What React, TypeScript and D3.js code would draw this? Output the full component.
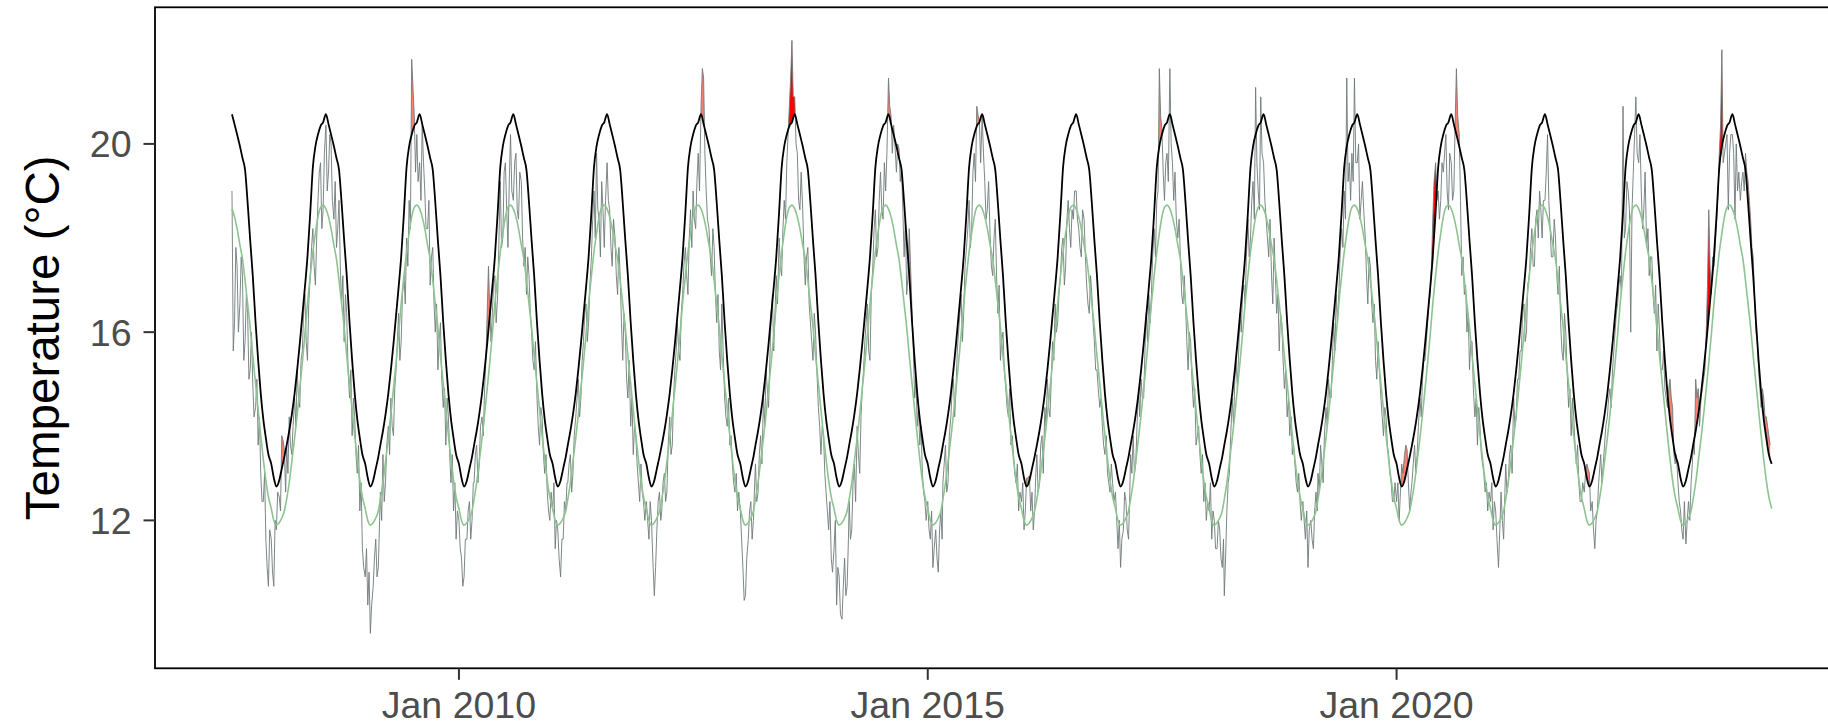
import React from "react";
import * as d3 from "d3";

// ---------- data ----------
const dekadDays = [1, 11, 21];
const pentadDays = [1, 6, 11, 16, 21, 26];
// climatology (seasonal mean) at each dekad of the year
const climDekad = [12.25, 12.0, 11.9, 11.95, 12.05, 12.2, 12.45, 12.8, 13.25, 13.75, 14.25, 14.8, 15.35, 15.95, 16.6, 17.2, 17.7, 18.1, 18.45, 18.65, 18.7, 18.62, 18.45, 18.2, 17.85, 17.55, 17.1, 16.6, 16.1, 15.5, 14.9, 14.35, 13.8, 13.3, 12.85, 12.5];
// 90th percentile threshold at each dekad of the year
const threshDekad = [13.2, 12.9, 12.72, 12.85, 13.1, 13.35, 13.6, 13.9, 14.25, 14.7, 15.2, 15.75, 16.35, 16.95, 17.6, 18.55, 19.5, 19.95, 20.2, 20.38, 20.46, 20.63, 20.42, 20.2, 19.95, 19.7, 19.45, 18.75, 17.95, 17.2, 16.2, 15.4, 14.7, 14.15, 13.75, 13.4];

// observed temperature, 6 readings per month (days 1,6,11,16,21,26); 2007 starts in August
const t2007 = [19.0, 15.6, 16.2, 17.8, 17.4, 16.0, 16.6, 17.6, 17.2, 15.4, 15.8, 16.8, 16.4, 15.0, 15.2, 16.0, 14.9, 14.2, 14.4, 15.0, 13.6, 14.2, 13.0, 12.4, 12.4, 13.0, 11.6, 11.0, 10.6, 11.8];
const t2008 = [11.6, 10.9, 10.6, 12.0, 11.8, 12.6, 12.5, 12.2, 13.8, 13.7, 13.5, 12.6, 13.6, 13.0, 14.2, 13.6, 13.4, 14.0, 14.6, 14.0, 15.2, 14.6, 14.4, 15.4, 15.6, 16.4, 16.8, 15.8, 15.4, 16.6, 17.2, 17.8, 18.2, 17.4, 17.0, 18.0, 18.8, 19.4, 19.6, 18.2, 18.6, 19.8, 20.4, 19.0, 19.4, 20.2, 20.0, 18.8, 18.4, 19.2, 17.8, 18.2, 18.8, 17.4, 16.6, 17.2, 15.8, 16.8, 16.4, 15.2, 14.6, 15.2, 13.8, 14.6, 14.2, 13.4, 13.0, 13.6, 12.2, 12.8, 11.4, 11.0];
const t2009 = [10.8, 11.4, 10.2, 10.9, 9.6, 10.2, 10.6, 11.2, 11.6, 10.8, 11.0, 12.0, 12.6, 12.0, 13.4, 12.4, 12.8, 13.6, 14.0, 13.4, 14.6, 14.0, 13.8, 14.8, 15.2, 15.8, 16.4, 15.4, 15.8, 16.8, 17.2, 16.6, 18.0, 17.4, 18.8, 18.2, 21.8, 21.2, 20.6, 19.4, 20.2, 19.2, 19.6, 18.8, 20.4, 19.6, 19.0, 18.2, 18.2, 18.8, 17.0, 17.6, 17.8, 16.6, 16.0, 16.6, 15.2, 15.8, 16.2, 15.0, 14.4, 14.8, 13.6, 14.6, 14.2, 13.4, 12.8, 13.4, 12.2, 12.8, 11.6, 12.2];
const t2010 = [12.0, 11.4, 11.2, 10.6, 10.8, 11.6, 11.6, 12.2, 12.4, 11.6, 12.0, 12.8, 12.8, 13.4, 13.6, 12.8, 13.2, 14.0, 14.2, 13.8, 14.8, 15.4, 16.4, 17.4, 16.5, 15.8, 16.4, 17.0, 17.2, 16.2, 16.8, 18.0, 19.2, 17.8, 18.0, 19.4, 19.6, 18.6, 17.8, 19.2, 20.2, 19.0, 18.8, 19.6, 19.8, 18.6, 18.4, 19.4, 19.2, 18.0, 17.4, 17.8, 16.8, 17.6, 17.2, 16.4, 16.0, 15.4, 15.2, 15.8, 14.6, 14.0, 13.6, 14.4, 14.2, 13.4, 13.0, 13.4, 12.6, 12.2, 12.0, 12.6];
const t2011 = [12.2, 12.8, 11.4, 12.0, 11.8, 11.2, 10.8, 11.6, 11.6, 12.4, 12.2, 12.8, 12.8, 13.2, 13.4, 12.6, 13.0, 13.8, 14.2, 14.6, 15.0, 14.2, 14.6, 15.4, 15.8, 16.4, 16.6, 15.8, 16.2, 17.0, 17.6, 18.4, 19.0, 18.0, 19.8, 18.6, 18.4, 17.6, 19.2, 18.6, 17.8, 18.8, 19.6, 18.8, 18.6, 17.8, 17.4, 18.4, 18.0, 17.2, 16.8, 17.8, 17.2, 16.2, 15.4, 16.4, 16.0, 15.0, 14.6, 15.4, 14.0, 14.6, 13.4, 14.0, 13.8, 13.2, 12.8, 12.4, 13.2, 12.6, 12.4, 12.0];
const t2012 = [12.4, 12.0, 11.6, 12.4, 12.0, 11.2, 10.4, 11.0, 11.8, 12.4, 12.6, 12.0, 12.2, 12.8, 13.0, 12.4, 12.6, 13.6, 14.2, 13.4, 13.6, 14.6, 15.2, 15.6, 16.2, 15.6, 15.4, 16.4, 16.8, 17.4, 17.8, 17.2, 16.8, 18.0, 18.6, 17.8, 19.0, 18.4, 18.2, 19.2, 19.8, 19.0, 20.8, 21.6, 21.4, 19.8, 19.0, 18.4, 18.2, 17.6, 17.2, 18.2, 17.8, 16.8, 16.2, 16.8, 15.6, 15.2, 16.6, 15.6, 14.6, 14.2, 14.0, 14.6, 13.6, 13.8, 13.2, 12.8, 12.6, 13.0, 12.2, 12.6];
const t2013 = [12.2, 11.6, 11.0, 10.3, 10.4, 11.2, 11.6, 12.2, 12.4, 11.6, 12.0, 12.8, 13.2, 12.4, 12.6, 13.4, 13.8, 13.2, 14.6, 14.0, 15.2, 14.8, 14.4, 15.4, 16.4, 16.8, 15.6, 16.4, 17.2, 16.6, 18.0, 17.4, 17.2, 18.2, 18.8, 18.4, 19.6, 20.2, 20.8, 21.4, 22.2, 21.0, 21.0, 20.0, 19.8, 18.8, 18.6, 19.4, 18.6, 17.6, 17.0, 17.6, 17.8, 16.6, 16.2, 15.8, 15.4, 16.4, 16.0, 15.2, 14.4, 14.0, 13.4, 14.0, 13.8, 13.0, 12.6, 12.2, 11.8, 12.4, 11.2, 10.9];
const t2014 = [11.4, 12.0, 10.2, 11.0, 10.8, 10.0, 9.9, 10.6, 11.2, 10.4, 10.6, 11.6, 12.4, 11.6, 11.8, 12.8, 13.2, 12.4, 14.0, 13.4, 13.0, 14.2, 14.8, 15.2, 15.8, 16.2, 16.6, 15.6, 15.4, 16.8, 17.4, 18.2, 18.6, 17.6, 17.8, 18.8, 19.4, 18.6, 18.4, 19.6, 19.0, 19.8, 21.4, 20.8, 20.6, 19.8, 20.4, 20.0, 19.4, 20.0, 19.9, 19.2, 19.5, 18.6, 17.6, 18.4, 16.8, 17.2, 18.2, 17.4, 16.4, 15.6, 14.6, 15.0, 14.0, 14.4, 13.6, 14.0, 13.0, 12.6, 12.4, 12.0];
const t2015 = [12.4, 11.8, 11.6, 12.2, 11.0, 11.4, 11.8, 11.2, 10.9, 11.8, 12.2, 11.6, 12.8, 13.2, 13.6, 12.6, 12.8, 13.8, 14.2, 14.8, 15.0, 14.2, 14.8, 15.6, 16.0, 16.4, 16.8, 15.8, 16.4, 17.4, 17.8, 18.2, 18.8, 17.8, 18.2, 19.4, 19.8, 19.2, 20.8, 20.6, 20.5, 19.6, 20.6, 19.8, 19.2, 18.4, 18.6, 19.2, 18.0, 17.4, 17.2, 18.0, 18.4, 17.2, 16.4, 17.0, 15.4, 15.8, 16.0, 15.2, 14.8, 14.4, 14.2, 14.8, 13.6, 13.8, 13.4, 13.0, 12.8, 13.2, 12.2, 12.6];
const t2016 = [12.4, 12.8, 11.8, 12.2, 12.9, 12.9, 12.95, 12.2, 12.6, 11.8, 12.2, 13.0, 13.4, 12.6, 12.8, 13.6, 13.8, 13.0, 14.4, 14.0, 15.0, 14.4, 14.2, 15.0, 15.8, 15.4, 16.6, 16.0, 16.2, 16.8, 17.2, 17.8, 18.0, 17.0, 17.4, 18.4, 18.8, 18.2, 17.8, 18.6, 18.4, 19.0, 19.0, 18.4, 18.2, 17.8, 17.6, 18.6, 18.4, 17.6, 17.0, 16.6, 16.4, 17.2, 16.8, 16.2, 15.8, 15.2, 15.2, 14.8, 14.4, 14.6, 14.0, 13.6, 13.4, 13.8, 13.0, 12.8, 12.6, 13.2, 12.8, 12.4];
const t2017 = [12.6, 12.0, 11.4, 12.0, 11.0, 11.6, 11.8, 12.6, 12.4, 11.8, 11.6, 12.6, 13.4, 13.0, 13.8, 13.0, 13.2, 14.0, 14.8, 14.2, 15.0, 14.6, 14.6, 15.6, 16.4, 15.8, 16.8, 16.2, 16.8, 17.6, 18.2, 17.6, 18.8, 19.0, 21.6, 20.6, 20.3, 19.4, 18.8, 19.6, 19.8, 19.2, 21.6, 20.0, 19.6, 18.8, 19.4, 18.4, 18.0, 18.4, 17.6, 16.8, 16.6, 17.2, 16.6, 15.8, 15.2, 16.0, 15.8, 15.0, 14.4, 14.8, 13.6, 13.8, 14.0, 13.4, 13.0, 13.4, 12.4, 12.8, 12.0, 12.4];
const t2018 = [12.2, 12.8, 11.6, 12.2, 12.0, 11.4, 11.4, 12.0, 11.8, 11.2, 11.0, 11.6, 10.4, 11.2, 12.2, 12.8, 13.0, 13.8, 14.6, 14.0, 15.0, 15.4, 14.8, 15.6, 16.4, 16.0, 16.8, 17.0, 16.6, 17.6, 18.4, 17.6, 18.0, 18.8, 19.2, 18.4, 21.2, 19.6, 19.0, 18.6, 21.0, 19.8, 19.6, 18.8, 18.4, 18.0, 17.6, 18.4, 17.2, 16.6, 18.0, 17.2, 16.4, 16.8, 15.6, 16.4, 16.2, 15.4, 14.8, 15.2, 14.2, 14.6, 13.8, 14.2, 13.4, 13.6, 13.2, 12.8, 12.6, 13.0, 12.4, 12.0];
const t2019 = [12.4, 12.0, 11.6, 12.2, 11.0, 11.8, 12.0, 11.6, 11.4, 12.2, 12.6, 12.2, 13.0, 12.6, 13.6, 13.2, 12.8, 13.8, 14.4, 14.0, 15.0, 14.6, 14.6, 15.4, 16.2, 15.6, 16.8, 16.2, 16.8, 17.6, 18.2, 17.8, 19.0, 18.4, 21.4, 19.2, 19.6, 18.8, 19.8, 19.2, 21.4, 19.6, 19.6, 20.0, 18.4, 18.8, 19.2, 18.6, 18.0, 17.2, 16.6, 17.6, 17.4, 16.6, 16.2, 16.6, 15.4, 15.0, 15.8, 15.2, 14.6, 14.2, 13.8, 14.4, 14.2, 13.6, 13.4, 13.0, 12.8, 12.4, 12.4, 12.8];
const t2020 = [12.4, 12.8, 12.0, 12.6, 13.2, 13.0, 13.4, 13.6, 13.5, 12.8, 12.2, 12.6, 12.8, 13.2, 13.6, 13.0, 13.4, 14.0, 14.6, 14.2, 15.0, 15.4, 15.4, 15.8, 16.2, 16.6, 16.8, 17.4, 18.4, 19.2, 19.6, 18.8, 19.0, 18.4, 18.8, 19.6, 19.4, 19.8, 20.2, 19.0, 18.6, 19.8, 19.6, 18.8, 19.0, 20.4, 21.6, 20.6, 20.2, 18.8, 17.2, 17.6, 16.8, 17.0, 16.0, 16.4, 15.2, 15.8, 15.8, 14.8, 14.2, 14.6, 13.6, 14.4, 14.0, 13.4, 13.2, 13.0, 12.6, 12.8, 12.2, 12.6];
const t2021 = [12.4, 12.8, 11.8, 12.4, 12.2, 11.6, 11.0, 11.8, 12.6, 12.0, 11.6, 12.6, 13.2, 12.6, 12.8, 13.4, 13.6, 13.0, 14.6, 14.0, 14.2, 15.0, 15.0, 15.6, 15.6, 16.4, 16.6, 15.8, 16.0, 17.0, 17.2, 17.8, 18.2, 17.4, 17.4, 18.4, 18.6, 18.0, 19.0, 18.6, 18.0, 18.8, 18.8, 19.4, 20.2, 18.8, 18.2, 17.6, 17.6, 18.4, 18.0, 17.2, 16.8, 17.4, 16.2, 15.6, 15.4, 16.4, 16.0, 15.2, 14.4, 14.8, 13.8, 14.6, 14.2, 13.6, 13.2, 13.6, 12.8, 12.4, 12.4, 12.8];
const t2022 = [12.6, 13.0, 13.2, 13.1, 13.0, 12.2, 12.4, 11.8, 11.4, 12.0, 12.2, 12.8, 13.0, 13.4, 12.8, 13.2, 13.6, 14.0, 14.2, 14.6, 14.8, 14.4, 15.2, 15.6, 16.0, 16.4, 16.6, 17.0, 17.2, 16.8, 20.8, 18.0, 18.2, 19.2, 19.0, 18.6, 16.0, 18.6, 19.4, 20.2, 21.0, 19.8, 19.6, 20.2, 19.0, 18.2, 18.6, 19.4, 17.8, 18.2, 17.2, 17.6, 17.6, 16.8, 16.4, 17.0, 15.6, 16.6, 16.0, 15.2, 15.2, 15.6, 14.8, 14.6, 14.4, 14.8, 15.0, 14.6, 14.4, 13.4, 13.2, 13.4];
const t2023 = [12.8, 12.4, 12.2, 11.8, 11.6, 12.4, 11.5, 12.0, 12.4, 12.0, 12.8, 13.2, 13.6, 13.4, 15.0, 14.6, 14.8, 14.0, 14.6, 14.8, 15.0, 15.2, 16.0, 17.0, 18.6, 17.4, 16.8, 17.6, 17.4, 17.8, 18.4, 19.0, 19.8, 20.4, 22.0, 19.6, 19.8, 20.0, 20.2, 18.6, 19.8, 20.2, 20.2, 19.8, 18.4, 20.0, 19.0, 19.4, 18.8, 19.2, 19.4, 19.0, 19.8, 19.4, 19.2, 18.8, 18.4, 17.8, 17.6, 16.8, 16.0, 15.8, 15.2, 14.8, 14.4, 14.8, 14.6, 14.2, 14.2, 14.0, 13.8, 13.6];

const tempYears = [2007, 2008, 2009, 2010, 2011, 2012, 2013, 2014, 2015, 2016, 2017, 2018, 2019, 2020, 2021, 2022, 2023];
const tempByYear = [t2007, t2008, t2009, t2010, t2011, t2012, t2013, t2014, t2015, t2016, t2017, t2018, t2019, t2020, t2021, t2022, t2023];

const dataStart = "2007-08-01";
const dataEnd = "2023-12-31";
const topEvents = [
  ["2013-07-01", "2013-08-10"],
  ["2020-05-10", "2020-06-10"],
  ["2023-04-05", "2023-07-05"],
];

const yTicks = [12, 16, 20];
const xTickDates = ["2010-01-01", "2015-01-01", "2020-01-01"];
const xTickLabels = ["Jan 2010", "Jan 2015", "Jan 2020"];
const yTitle = "Temperature (°C)";

// ---------- layout ----------
const W = 1828;
const H = 725;
const PL = 155;
const PR = 1848.4;
const PT = 7.3;
const PB = 668.3;
const Y_DOMAIN = [8.857, 22.903];

const parse = (s: string) => new Date(s + "T00:00:00Z");

export default function App() {
  const start = parse(dataStart);
  const end = parse(dataEnd);
  const span = end.getTime() - start.getTime();
  const x = d3
    .scaleUtc()
    .domain([new Date(start.getTime() - 0.05 * span), new Date(end.getTime() + 0.05 * span)])
    .range([PL, PR]);
  const y = d3.scaleLinear().domain(Y_DOMAIN).range([PB, PT]);

  // climatology & threshold cycles (dekads)
  type C = { t: Date; clim: number; thr: number };
  const cyc: C[] = [];
  for (let yr = 2007; yr <= 2023; yr++) {
    for (let k = 0; k < 36; k++) {
      const t = new Date(Date.UTC(yr, Math.floor(k / 3), dekadDays[k % 3]));
      if (t < start) continue;
      cyc.push({ t, clim: climDekad[k], thr: threshDekad[k] });
    }
  }
  cyc.push({ t: new Date(Date.UTC(2024, 0, 1)), clim: climDekad[0], thr: threshDekad[0] });
  const bis = d3.bisector((d: C) => d.t.getTime()).right;
  const thrAt = (t: Date) => {
    const ms = t.getTime();
    const i = Math.min(Math.max(bis(cyc, ms), 1), cyc.length - 1);
    const a = cyc[i - 1];
    const b = cyc[i];
    const f = (ms - a.t.getTime()) / (b.t.getTime() - a.t.getTime());
    return a.thr + f * (b.thr - a.thr);
  };

  // temperature points
  type P = { t: Date; temp: number; thr: number };
  const pts: P[] = [];
  tempByYear.forEach((arr, i) => {
    const yr = tempYears[i];
    const offset = 72 - arr.length;
    arr.forEach((v, j) => {
      const k = j + offset;
      const t = new Date(Date.UTC(yr, Math.floor(k / 6), pentadDays[k % 6]));
      pts.push({ t, temp: v, thr: thrAt(t) });
    });
  });

  const tempLine = d3
    .line<P>()
    .x((d) => x(d.t))
    .y((d) => y(d.temp));
  const climLine = d3
    .line<C>()
    .curve(d3.curveMonotoneX)
    .x((d) => x(d.t))
    .y((d) => y(d.clim));
  const thrLine = d3
    .line<C>()
    .curve(d3.curveMonotoneX)
    .x((d) => x(d.t))
    .y((d) => y(d.thr));

  // flames: temp > threshold for at least 2 consecutive readings
  const flames: { d: string; fill: string }[] = [];
  let cur: { top: [number, number][]; bot: [number, number][]; n: number; mid: number } | null = null;
  const events = topEvents.map(([a, b]) => [parse(a).getTime(), parse(b).getTime()]);
  const close = () => {
    if (cur && cur.n >= 2) {
      const poly = cur.top.concat(cur.bot.slice().reverse());
      const d = "M" + poly.map((p) => `${p[0].toFixed(2)},${p[1].toFixed(2)}`).join("L") + "Z";
      const mid = cur.mid / cur.n;
      const isTop = events.some(([a, b]) => mid >= a && mid <= b);
      flames.push({ d, fill: isTop ? "#FF0000" : "#FA8072" });
    }
    cur = null;
  };
  const crossing = (q: P, p: P): [number, number] => {
    const dq = q.temp - q.thr;
    const dp = p.temp - p.thr;
    const f = dq / (dq - dp);
    const tc = q.t.getTime() + f * (p.t.getTime() - q.t.getTime());
    const vc = q.thr + f * (p.thr - q.thr);
    return [x(new Date(tc)), y(vc)];
  };
  for (let i = 0; i < pts.length; i++) {
    const p = pts[i];
    const dv = p.temp - p.thr;
    if (dv > 0) {
      if (!cur) {
        cur = { top: [], bot: [], n: 0, mid: 0 };
        if (i > 0) cur.top.push(crossing(pts[i - 1], p));
      }
      cur.top.push([x(p.t), y(p.temp)]);
      cur.bot.push([x(p.t), y(p.thr)]);
      cur.n += 1;
      cur.mid += p.t.getTime();
    } else if (cur) {
      cur.top.push(crossing(pts[i - 1], p));
      close();
    }
  }
  close();

  const font = "'Liberation Sans', Arial, Helvetica, sans-serif";

  return (
    <svg
      width={W}
      height={H}
      style={{ position: "absolute", left: 0, top: 0, display: "block", background: "#fff" }}
    >
      <defs>
        <clipPath id="panel">
          <rect x={PL} y={PT} width={PR - PL} height={PB - PT} />
        </clipPath>
      </defs>
      <rect x={0} y={0} width={W} height={H} fill="#fff" />
      <g clipPath="url(#panel)">
        {flames.map((f, i) => (
          <path key={i} d={f.d} fill={f.fill} stroke="none" />
        ))}
        <path d={tempLine(pts) || ""} fill="none" stroke="#6f7a7a" strokeWidth={1.0} strokeOpacity={0.9} strokeLinejoin="round" />
        <path d={climLine(cyc) || ""} fill="none" stroke="#8cc48f" strokeWidth={1.6} />
        <path d={thrLine(cyc) || ""} fill="none" stroke="#000" strokeWidth={1.8} />
      </g>
      <rect x={PL} y={PT} width={PR - PL} height={PB - PT} fill="none" stroke="#000" strokeWidth={1.8} />
      {yTicks.map((v) => (
        <g key={v}>
          <line x1={PL - 11.5} x2={PL} y1={y(v)} y2={y(v)} stroke="#333" strokeWidth={2} />
          <text x={131.5} y={y(v) + 13.4} textAnchor="end" fontFamily={font} fontSize={37.5} fill="#4D4D4D">
            {v}
          </text>
        </g>
      ))}
      {xTickDates.map((s, i) => {
        const xx = x(parse(s));
        return (
          <g key={s}>
            <line x1={xx} x2={xx} y1={PB} y2={PB + 11.5} stroke="#333" strokeWidth={2} />
            <text x={xx} y={718.3} textAnchor="middle" fontFamily={font} fontSize={37.5} fill="#4D4D4D">
              {xTickLabels[i]}
            </text>
          </g>
        );
      })}
      <text
        transform={`translate(58.5, ${(PT + PB) / 2}) rotate(-90)`}
        textAnchor="middle"
        fontFamily={font}
        fontSize={47.5}
        fill="#000"
      >
        {yTitle}
      </text>
    </svg>
  );
}
